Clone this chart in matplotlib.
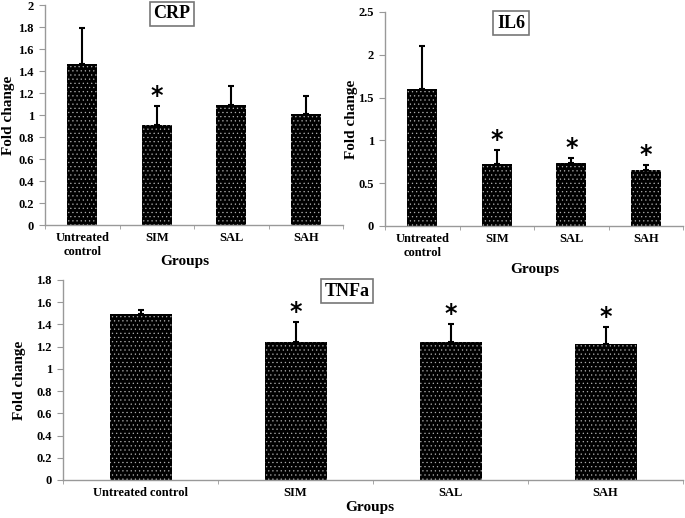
import matplotlib.pyplot as plt
import numpy as np

plt.rcParams['font.family'] = 'Liberation Serif'
plt.rcParams['font.weight'] = 'bold'
plt.rcParams['hatch.color'] = '#b0b0b0'
plt.rcParams['hatch.linewidth'] = 0.4

groups = ['Untreated\ncontrol', 'SIM', 'SAL', 'SAH']
groups_wide = ['Untreated control', 'SIM', 'SAL', 'SAH']

crp = [1.46, 0.91, 1.09, 1.01]
crp_err = [0.33, 0.17, 0.17, 0.16]
crp_star = [False, True, False, False]

il6 = [1.60, 0.73, 0.74, 0.66]
il6_err = [0.50, 0.16, 0.05, 0.05]
il6_star = [False, True, True, True]

tnfa = [1.49, 1.24, 1.24, 1.22]
tnfa_err = [0.04, 0.18, 0.16, 0.16]
tnfa_star = [False, True, True, True]

W, H = 685, 518
fig = plt.figure(figsize=(W / 100, H / 100), dpi=100)


def panel(rect, vals, errs, stars, labels, ymax, ystep, title, title_xy, xlab_xy, ylab_x, star_off):
    ax = fig.add_axes(rect)
    x = np.arange(len(vals))
    ax.bar(x, vals, width=0.4, color='black', hatch='....', zorder=2)
    ax.errorbar(x, vals, yerr=[np.zeros(len(vals)), errs], fmt='none',
                ecolor='black', elinewidth=1.5, capsize=2, capthick=1.5, zorder=3)
    for xi, v, e, s in zip(x, vals, errs, stars):
        if s:
            ax.text(xi, v + e + star_off, '*', ha='center', va='center',
                    fontsize=17, fontweight='bold', family='DejaVu Sans')
    ax.set_xlim(-0.5, 3.5)
    ax.set_ylim(0, ymax)
    ax.set_yticks(np.arange(0, ymax + 1e-9, ystep))
    ax.yaxis.set_major_formatter(plt.FuncFormatter(lambda v, p: ('%g' % round(v, 2))))
    ax.set_xticks(x)
    ax.set_xticklabels(labels, fontsize=9, fontweight='bold', linespacing=1.2)
    ax.set_xticks(np.arange(-0.5, 4, 1), minor=True)
    ax.tick_params(axis='x', which='major', length=0, pad=5)
    ax.tick_params(axis='x', which='minor', length=3, color='#999999')
    ax.tick_params(axis='y', length=4, color='#999999', labelsize=9, pad=4)
    for lab in ax.get_yticklabels():
        lab.set_fontweight('bold')
    for sp in ['top', 'right']:
        ax.spines[sp].set_visible(False)
    for sp in ['left', 'bottom']:
        ax.spines[sp].set_color('#999999')
        ax.spines[sp].set_linewidth(1.0)
    ax.set_ylabel('Fold change', fontsize=11, fontweight='bold', va='center')
    ax.yaxis.set_label_coords(ylab_x / W, rect[1] + rect[3] / 2, transform=fig.transFigure)
    fig.text(title_xy[0] / W, 1 - title_xy[1] / H, title, ha='center', va='center',
             fontsize=13, fontweight='bold',
             bbox=dict(boxstyle='square,pad=0.2', fc='white', ec='#777777', lw=1.2))
    fig.text(xlab_xy[0] / W, 1 - xlab_xy[1] / H, 'Groups', ha='center', va='center',
             fontsize=11, fontweight='bold')
    return ax


panel([45 / W, 1 - 225 / H, 298 / W, 220 / H], crp, crp_err, crp_star, groups, 2, 0.2,
      'CRP', (172, 14), (185, 261), 9, 0.09)
panel([385 / W, 1 - 226 / H, 298 / W, 214 / H], il6, il6_err, il6_star, groups, 2.5, 0.5,
      'IL6', (511, 23), (535, 270), 352, 0.12)
panel([63 / W, 1 - 480 / H, 620 / W, 200 / H], tnfa, tnfa_err, tnfa_star, groups_wide, 1.8, 0.2,
      'TNFa', (347, 291), (370, 508), 20, 0.09)

fig.savefig('out.png', dpi=100)
